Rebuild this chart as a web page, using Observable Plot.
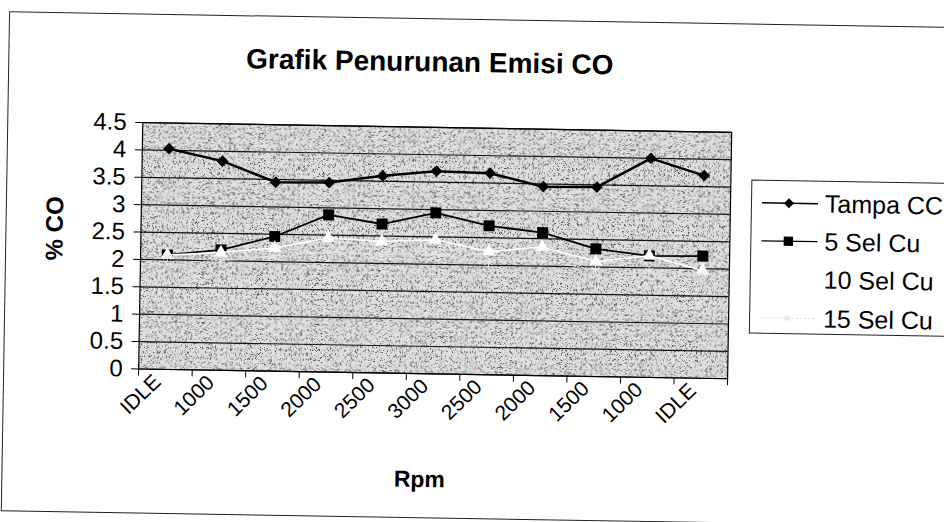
<!DOCTYPE html>
<html><head><meta charset="utf-8">
<script src="https://cdn.jsdelivr.net/npm/d3@7"></script>
<script src="https://cdn.jsdelivr.net/npm/@observablehq/plot@0.6"></script>
<style>
html,body{margin:0;padding:0;background:#fff;}
#wrap{position:relative;width:944px;height:522px;overflow:hidden;background:#fff;font-family:"Liberation Sans",Arial,sans-serif;}
#rot{position:absolute;left:0;top:0;width:944px;height:522px;transform:rotate(0.95deg);transform-origin:472px 261px;}
#border{position:absolute;left:5px;top:19px;width:1100px;height:500px;border:1.5px solid #222;box-sizing:border-box;}
#title{position:absolute;left:0;width:853px;top:49px;line-height:28px;text-align:center;font-weight:bold;font-size:28px;color:#000;white-space:nowrap;}
#chart{position:absolute;left:0;top:0;}
#legend{position:absolute;left:749.5px;top:174.5px;width:300px;height:154px;border:1.5px solid #222;background:#fff;box-sizing:border-box;}
</style>
</head><body>
<div id="wrap"><div id="rot">
<div id="border"></div>
<div id="title">Grafik Penurunan Emisi CO</div>
<div id="chart"></div>
<div id="legend"></div>
</div></div>
<script>
const categories = ["IDLE","1000","1500","2000","2500","3000","2500","2000","1500","1000","IDLE"];
const tampaCC = [4.03, 3.82, 3.45, 3.46, 3.6, 3.7, 3.68, 3.45, 3.46, 4.0, 3.7];
const sel5Cu  = [2.09, 2.2, 2.46, 2.87, 2.72, 2.94, 2.72, 2.61, 2.33, 2.22, 2.23];
const sel10Cu = [2.09, 2.15, 2.25, 2.45, 2.4, 2.45, 2.25, 2.35, 2.1, 2.22, 1.97];
const sel15Cu = [2.05, 2.0, 2.1, 2.2, 2.15, 2.2, 2.05, 2.1, 1.95, 1.95, 1.9];
const yTicks = [0, 0.5, 1, 1.5, 2, 2.5, 3, 3.5, 4, 4.5];
const seriesNames = ["Tampa CC", "5 Sel Cu", "10 Sel Cu", "15 Sel Cu"];

const rows = vals => vals.map((v, i) => ({i, v}));
const styles = [
  {line:{stroke:"#000", strokeWidth:2.5}, dot:{symbol:"diamond2", r:5.3, fill:"#000"}, lw:1.6},
  {line:{stroke:"#000", strokeWidth:1.8}, dot:{symbol:"square", r:6.2, fill:"#000"}, lw:1.2},
  {line:{stroke:"#fff", strokeWidth:1.5}, dot:{symbol:"triangle", r:5, fill:"#fff"}, lw:1.2},
  {line:{stroke:"#e2e2e2", strokeWidth:1.2, strokeDasharray:"2,2"}, dot:{symbol:"asterisk", r:4.5, stroke:"#e8e8e8", strokeWidth:1}, lw:1}
];
const seriesData = [tampaCC, sel5Cu, sel10Cu, sel15Cu];

const seriesMarks = [];
seriesData.forEach((vals, k) => {
  seriesMarks.push(Plot.line(rows(vals), {x:"i", y:"v", ...styles[k].line}));
  seriesMarks.push(Plot.dot(rows(vals), {x:"i", y:"v", ...styles[k].dot}));
});

const chart = Plot.plot({
  width: 944, height: 522,
  marginLeft: 140, marginRight: 215, marginTop: 127.5, marginBottom: 148,
  style: {fontFamily: '"Liberation Sans", Arial, sans-serif', background: "transparent", overflow: "visible", color:"#000"},
  x: {type: "linear", domain: [-0.5, categories.length - 0.5], axis: null},
  y: {domain: [0, 4.5], axis: null},
  marks: [
    Plot.frame({fill: "#e0e0e0"}),
    Plot.gridY(yTicks, {stroke: "#000", strokeOpacity: 0.9, strokeWidth: 1.2}),
    Plot.frame({stroke: "#000", strokeWidth: 1.2}),
    Plot.axisY(yTicks, {tickSize: 7, tickPadding: 9, fontSize: 24, tickFormat: d => String(d), label: null}),
    Plot.axisX(d3.range(categories.length + 1).map(k => k - 0.5), {tickSize: 7, tickFormat: () => "", label: null}),
    Plot.axisX(d3.range(categories.length), {tickSize: 0, tickPadding: 9, dx: -8, tickRotate: -45, tickFormat: i => categories[i], fontSize: 21, label: null}),
    ...seriesMarks,
    Plot.text(["% CO"], {text: d => d, frameAnchor: "left", textAnchor: "middle", lineAnchor: "middle", dx: -86, dy: -16, rotate: -90, fontWeight: "bold", fontSize: 24}),
    Plot.text(["Rpm"], {text: d => d, frameAnchor: "bottom", textAnchor: "middle", lineAnchor: "middle", dx: -12, dy: 106, fontWeight: "bold", fontSize: 23})
  ]
});
document.getElementById("chart").appendChild(chart);

// fine stipple texture for the plot area, like the scanned original
const ns = "http://www.w3.org/2000/svg";
const defs = document.createElementNS(ns, "defs");
defs.innerHTML = `<filter id="stipple" x="0" y="0" width="1" height="1" color-interpolation-filters="sRGB">
  <feTurbulence type="fractalNoise" baseFrequency="1.8" numOctaves="1" seed="5" result="noise"/>
  <feColorMatrix in="noise" type="matrix" values="0 0 0 0 0.27  0 0 0 0 0.27  0 0 0 0 0.27  6 0 0 0 -3.3" result="dots"/>
  <feComposite in="dots" in2="SourceGraphic" operator="in" result="clip"/>
  <feMerge><feMergeNode in="SourceGraphic"/><feMergeNode in="clip"/></feMerge>
</filter>`;
chart.insertBefore(defs, chart.firstChild);
const bg = chart.querySelector('[aria-label="frame"]');
if (bg) bg.setAttribute("filter", "url(#stipple)");

// legend
const lg = d3.select("#legend").append("svg").attr("width", 300).attr("height", 154)
  .style("font-family", '"Liberation Sans", Arial, sans-serif').style("overflow","visible");
const rowY = [22, 60, 98, 137];
seriesNames.forEach((name, k) => {
  const g = lg.append("g").attr("transform", `translate(0,${rowY[k]})`);
  const s = styles[k];
  g.append("line").attr("x1", 10).attr("x2", 66).attr("y1", 0).attr("y2", 0)
    .attr("stroke", s.line.stroke).attr("stroke-width", s.lw)
    .attr("stroke-dasharray", s.line.strokeDasharray || null);
  const sym = {diamond2: d3.symbolDiamond2, square: d3.symbolSquare, triangle: d3.symbolTriangle, asterisk: d3.symbolAsterisk}[s.dot.symbol];
  g.append("path").attr("transform", "translate(37,0)")
    .attr("d", d3.symbol(sym, Math.PI * (s.dot.r * 0.85) ** 2)())
    .attr("fill", s.dot.fill || "none").attr("stroke", s.dot.stroke || "none");
  g.append("text").attr("x", 73).attr("y", 0).attr("dy", "0.35em").attr("font-size", 25).attr("fill", "#000").text(name);
});
</script>
</body></html>
